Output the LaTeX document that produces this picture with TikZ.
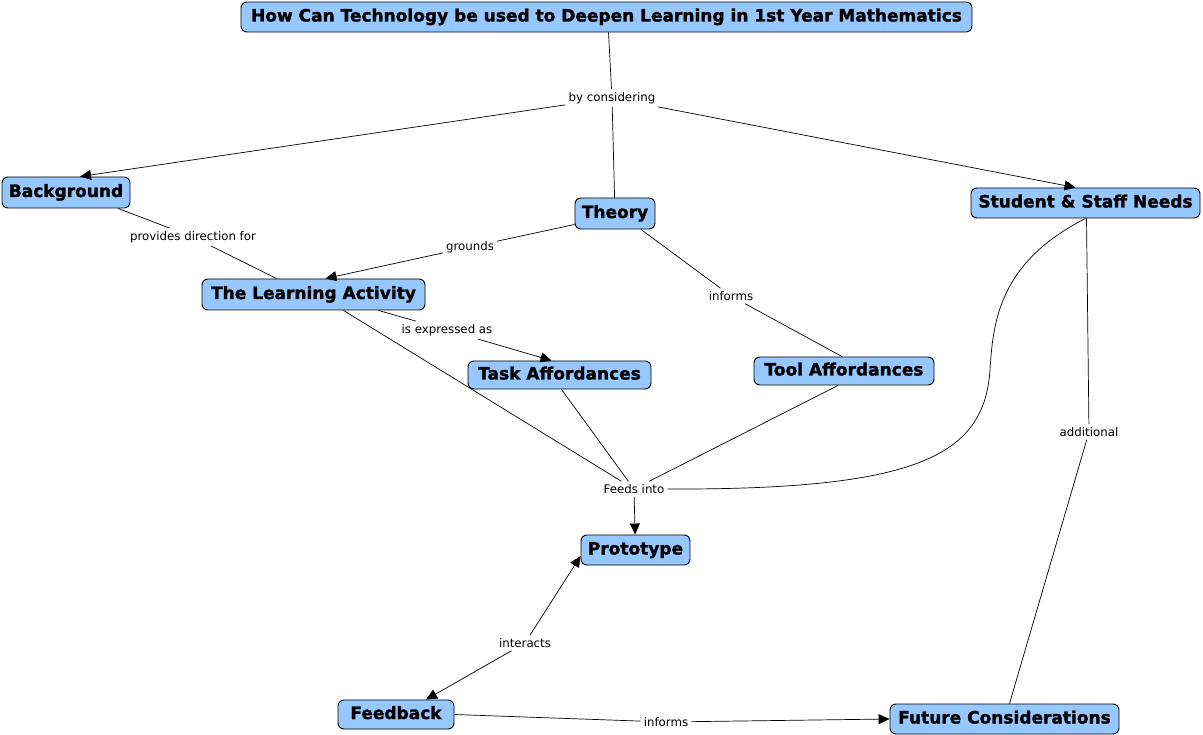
\documentclass[tikz,border=0pt]{standalone}
\usepackage{fontspec}
\setmainfont{DejaVu Sans}
\newfontfamily\heavyfont[FakeBold=1.6]{DejaVu Sans Bold}
\usetikzlibrary{arrows.meta,calc}
\definecolor{nodeblue}{RGB}{150,200,255}
\begin{document}
\begin{tikzpicture}[x=1pt,y=-1pt,
  concept/.style={draw=black, fill=nodeblue, rounded corners=6pt, line width=0.9pt,
    font=\heavyfont\fontsize{17}{19}\selectfont, inner xsep=4pt, inner ysep=0pt,
    text height=12.5pt, text depth=3.5pt},
  linklabel/.style={font=\fontsize{11.8}{13}\selectfont, inner sep=3pt},
  conn/.style={line width=0.7pt, black},
  arr/.style={conn, -{Triangle[length=11pt,width=10pt]}},
]
\useasboundingbox (0,0) rectangle (1203,735);

% concepts
\node[concept, minimum width=731pt, minimum height=30pt] (title) at (606.5,17) {How Can Technology be used to Deepen Learning in 1st Year Mathematics};
\node[concept, minimum width=128pt, minimum height=31pt] (bg) at (66,192.5) {Background};
\node[concept, minimum width=80pt, minimum height=31pt] (theory) at (615,213.5) {Theory};
\node[concept, minimum width=229pt, minimum height=30pt] (ssn) at (1085.5,203) {Student \& Staff Needs};
\node[concept, minimum width=223pt, minimum height=31pt] (la) at (313.5,294.5) {The Learning Activity};
\node[concept, minimum width=183pt, minimum height=28pt] (task) at (559.5,375) {Task Affordances};
\node[concept, minimum width=180pt, minimum height=28pt] (tool) at (844,371) {Tool Affordances};
\node[concept, minimum width=109pt, minimum height=30pt] (proto) at (635.5,550) {Prototype};
\node[concept, minimum width=116pt, minimum height=29pt] (fb) at (396,714.5) {Feedback};
\node[concept, minimum width=229pt, minimum height=30pt] (fut) at (1004.5,719) {Future Considerations};

% linking phrases
\node[linklabel] (bycons) at (612,98) {by considering};
\node[linklabel] (provides) at (193,237) {provides direction for};
\node[linklabel] (grounds) at (470,247) {grounds};
\node[linklabel] (informsA) at (731,296) {informs};
\node[linklabel] (expressed) at (447,330) {is expressed as};
\node[linklabel] (feeds) at (634,489) {Feeds into};
\node[linklabel] (additional) at (1089,432) {additional};
\node[linklabel] (interacts) at (525,643) {interacts};
\node[linklabel] (informsB) at (666,722) {informs};

% connectors
\draw[conn] ([xshift=2pt]title.south) -- (bycons);
\draw[conn] (bycons) -- (theory);
\draw[arr] (bycons) -- ([xshift=14pt]bg.north);
\draw[arr] (bycons) -- ([xshift=-10pt]ssn.north);

\draw[conn] ([xshift=52pt]bg.south) -- (provides);
\draw[conn] (provides) -- ([xshift=-37pt]la.north);

\draw[conn] ([yshift=-11pt]theory.west) -- (grounds);
\draw[arr] (grounds) -- ([xshift=12pt]la.north);

\draw[conn] ([xshift=26pt]theory.south) -- (informsA);
\draw[conn] (informsA) -- ([xshift=-2pt]tool.north);

\draw[conn] ([xshift=65pt]la.south) -- (expressed);
\draw[arr] (expressed) -- ([xshift=-8pt]task.north);

\draw[conn] ([xshift=30pt]la.south) -- (feeds);
\draw[conn] ([xshift=2pt]task.south) -- (feeds);
\draw[conn] ([xshift=-6pt]tool.south) -- (feeds);
\draw[conn] (ssn.south) .. controls (1000,262) and (993,320) .. (990,370)
  .. controls (984,455) and (920,490) .. (feeds.east);
\draw[arr] (feeds) -- (proto);

\draw[arr] (interacts) -- ([yshift=-6pt]proto.west);
\draw[arr] (interacts) -- ([xshift=30pt]fb.north);

\draw[conn] (fb.east) -- (informsB);
\draw[arr] (informsB) -- (fut.west);

\draw[conn] ([xshift=1pt]ssn.south) -- (additional);
\draw[conn] (additional) -- ([xshift=5pt]fut.north);
\end{tikzpicture}
\end{document}
